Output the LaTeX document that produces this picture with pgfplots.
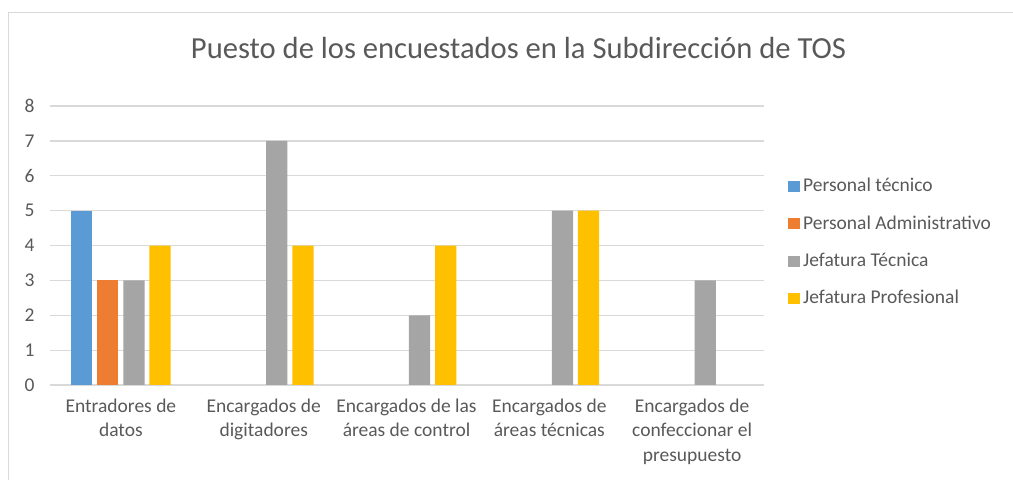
\documentclass[border=0pt]{standalone}
\usepackage{pgfplots}
\pgfplotsset{compat=1.18}
\usepackage{fontspec}
\setmainfont{Carlito}
\definecolor{txt}{HTML}{595959}
\definecolor{gridc}{HTML}{D9D9D9}
\definecolor{cblue}{HTML}{5B9BD5}
\definecolor{corange}{HTML}{ED7D31}
\definecolor{cgray}{HTML}{A5A5A5}
\definecolor{cyellow}{HTML}{FFC000}

\begin{document}
\begin{tikzpicture}
% 1 px of the reference = 0.513pt
\begin{scope}[x=0.513pt,y=0.513pt]
  \draw[gridc, line width=0.6pt] (8.5,-10) -- (8.5,467.5) -- (1030,467.5);
  \node[txt, font=\fontsize{15.7}{19}\selectfont] at (518.5,432) {Puesto de los encuestados en la Subdirección de TOS};
\end{scope}

\begin{axis}[
    at={(25.4pt,48.74pt)}, anchor=south west,
    scale only axis,
    width=366.3pt, height=143.1pt,
    ybar=2.5pt, bar width=10.9pt,
    xmin=-0.5, xmax=4.5,
    ymin=0, ymax=8,
    xtick={0,1,2,3,4},
    xticklabels={Entradores de\\datos, Encargados de\\digitadores, Encargados de las\\áreas de control, Encargados de\\áreas técnicas, Encargados de\\confeccionar el\\presupuesto},
    xticklabel style={align=center, font=\fontsize{10}{12.6}\selectfont, text=txt, yshift=-3.5pt},
    ytick={0,1,...,8},
    yticklabel style={font=\fontsize{10}{12}\selectfont, text=txt, xshift=-4.2pt},
    /pgf/number format/assume math mode=true,
    major tick length=0pt,
    ymajorgrids, grid style={gridc, line width=0.6pt},
    axis x line*=bottom,
    axis y line*=left,
    x axis line style={draw=gridc, line width=0.6pt, -},
    y axis line style={draw=none, -},
    legend style={at={(axis description cs:1.025,0.762)}, anchor=north west,
        draw=none, fill=none, font=\fontsize{10}{12}\selectfont, text=txt,
        row sep=9.1pt, nodes={inner sep=0.8pt, inner xsep=1.6pt}, legend cell align=left},
    legend image code/.code={\fill[#1,draw=none] (0pt,-2.8pt) rectangle (6.4pt,2.8pt);},
    clip=false,
]
\addplot[fill=cblue, draw=none] coordinates {(0,5) (1,nan) (2,nan) (3,nan) (4,nan)};
\addlegendentry{Personal técnico}
\addplot[fill=corange, draw=none] coordinates {(0,3) (1,nan) (2,nan) (3,nan) (4,nan)};
\addlegendentry{Personal Administrativo}
\addplot[fill=cgray, draw=none] coordinates {(0,3) (1,7) (2,2) (3,5) (4,3)};
\addlegendentry{Jefatura Técnica}
\addplot[fill=cyellow, draw=none] coordinates {(0,4) (1,4) (2,4) (3,5) (4,nan)};
\addlegendentry{Jefatura Profesional}
\end{axis}

\pgfresetboundingbox
\path[use as bounding box] (0,0) rectangle (519.67pt,246.24pt);
\end{tikzpicture}
\end{document}
